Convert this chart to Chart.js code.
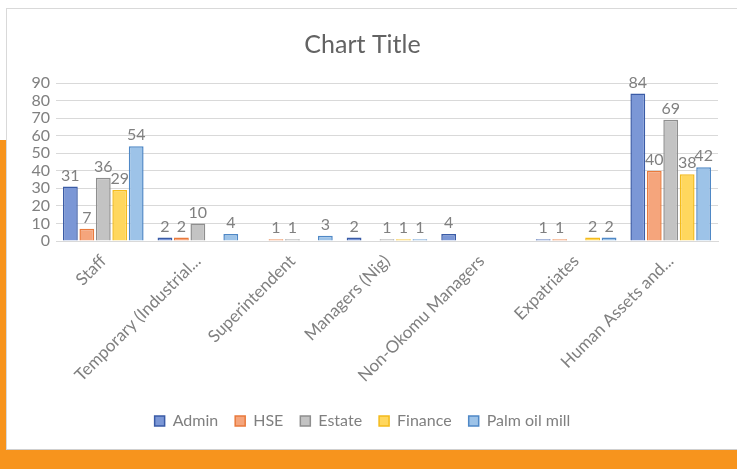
<!DOCTYPE html>
<html>
<head>
<meta charset="utf-8">
<script src="https://cdn.jsdelivr.net/npm/chart.js@4/dist/chart.umd.min.js"></script>
<style>
    html, body { margin: 0; padding: 0; background: #fff; }
    body { width: 737px; height: 469px; position: relative; overflow: hidden; }
    .strip-left { position: absolute; left: 0; top: 140px; width: 6px; height: 329px; background: #F7941D; }
    .strip-bottom { position: absolute; left: 0; top: 450px; width: 737px; height: 19px; background: #F7941D; }
    .card { position: absolute; left: 6px; top: 8px; width: 731px; height: 442px; background: #fff;
            border-top: 1px solid #d9d9d9; border-left: 1px solid #d9d9d9; border-bottom: 1px solid #cfcfcf; box-sizing: border-box; }
    #chart { display: block; }
</style>
</head>
<body>
<div class="strip-left"></div>
<div class="strip-bottom"></div>
<div class="card"><canvas id="chart" width="730" height="440"></canvas></div>
<script>
const categories = ['Staff', 'Temporary (Industrial...', 'Superintendent', 'Managers (Nig)',
    'Non-Okomu Managers', 'Expatriates', 'Human Assets and...'];
const admin = [31, 2, null, 2, 4, 1, 84];
const hse = [7, 2, 1, null, null, 1, 40];
const estate = [36, 10, 1, 1, null, null, 69];
const finance = [29, null, null, 1, null, 2, 38];
const palmOilMill = [54, 4, 3, 1, null, 2, 42];
const yTicks = [0, 10, 20, 30, 40, 50, 60, 70, 80, 90];

const FONT = "Lato, 'Open Sans', sans-serif";
const GREY = '#808080';

// value labels above each bar
const barLabels = {
    id: 'barLabels',
    afterDatasetsDraw(chart) {
        const ctx = chart.ctx;
        ctx.save();
        ctx.font = '16px ' + FONT;
        ctx.fillStyle = GREY;
        ctx.textAlign = 'center';
        ctx.textBaseline = 'bottom';
        chart.data.datasets.forEach((ds, i) => {
            chart.getDatasetMeta(i).data.forEach((bar, j) => {
                const v = ds.data[j];
                if (v === null || v === undefined) return;
                ctx.fillText(String(v), bar.x, bar.y - 3);
            });
        });
        ctx.restore();
    }
};

function series(label, data, fill, border) {
    return { label, data, backgroundColor: fill, borderColor: border, borderWidth: 1.5 };
}

new Chart(document.getElementById('chart'), {
    type: 'bar',
    data: {
        labels: categories,
        datasets: [
            series('Admin', admin, '#7b97d6', '#3a5ba6'),
            series('HSE', hse, '#f5a57c', '#e97a3c'),
            series('Estate', estate, '#c3c3c3', '#8e8e8e'),
            series('Finance', finance, '#ffd75e', '#f4bb1c'),
            series('Palm oil mill', palmOilMill, '#9dc3e8', '#4f88c6')
        ]
    },
    options: {
        responsive: false,
        animation: false,
        layout: { padding: { left: 0, right: 19, top: 0, bottom: 10 } },
        datasets: { bar: { categoryPercentage: 0.87, barPercentage: 0.9 } },
        plugins: {
            title: {
                display: true,
                text: 'Chart Title',
                color: '#636363',
                font: { family: FONT, size: 25, weight: 'normal' },
                padding: { top: 21, bottom: 23 }
            },
            legend: {
                position: 'bottom',
                labels: {
                    color: GREY,
                    font: { family: FONT, size: 16 },
                    boxWidth: 10,
                    boxHeight: 10,
                    padding: 17
                }
            },
            tooltip: { enabled: false }
        },
        scales: {
            y: {
                min: 0,
                max: 90,
                afterBuildTicks(scale) { scale.ticks = yTicks.map(v => ({ value: v })); },
                afterFit(scale) { scale.width = 49; },
                ticks: { color: GREY, font: { family: FONT, size: 16 }, padding: 6, autoSkip: false },
                grid: { color: '#d9d9d9', drawTicks: false },
                border: { display: false }
            },
            x: {
                afterFit(scale) { scale.height = 155; },
                ticks: {
                    color: GREY,
                    font: { family: FONT, size: 17 },
                    minRotation: 45,
                    maxRotation: 45,
                    autoSkip: false,
                    padding: 2
                },
                grid: { display: false },
                border: { color: '#d9d9d9' }
            }
        }
    },
    plugins: [barLabels]
});
</script>
</body>
</html>
